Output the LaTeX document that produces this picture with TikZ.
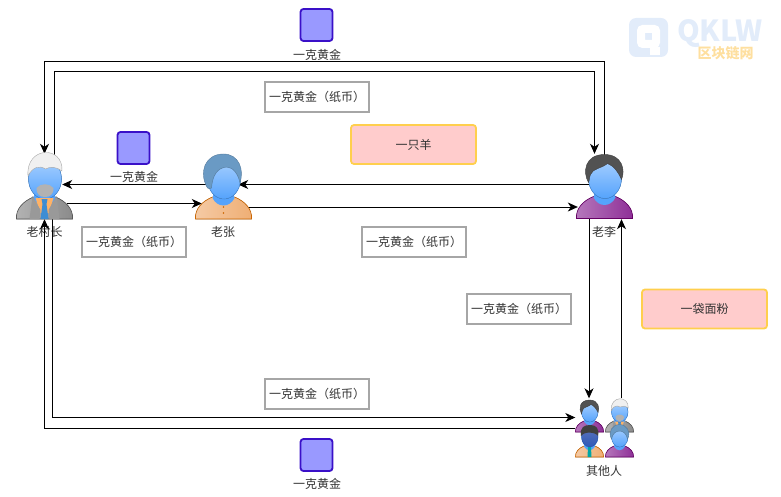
\documentclass[tikz,border=0pt]{standalone}
\usepackage{fontspec}
\setmainfont{Noto Sans CJK SC}
\usetikzlibrary{arrows.meta,positioning,calc}
\definecolor{txt}{HTML}{333333}
\definecolor{faceA}{HTML}{A8D0FF}
\definecolor{faceB}{HTML}{55A3FC}
\definecolor{bodygray}{HTML}{8A8A8A}
\definecolor{bodyorange}{HTML}{EFAE74}
\definecolor{bodyviolet}{HTML}{8E2F97}
\definecolor{hairblue}{HTML}{6A9AC4}
\definecolor{goldedge}{HTML}{3A10C8}
\definecolor{goodsedge}{HTML}{FFCF4D}
\definecolor{markblue}{HTML}{E2ECFA}
\definecolor{markgold}{HTML}{FEDF9F}
\tikzstyle{person}=[minimum width=57pt, minimum height=66pt, inner sep=0pt]
\tikzstyle{caption}=[font=\fontsize{12}{12}\selectfont, text=txt, inner sep=0pt]
\tikzstyle{gold}=[draw=goldedge, fill=blue!40, line width=1.8pt, rounded corners=3pt, minimum size=32pt, inner sep=0pt]
\tikzstyle{paper}=[draw=black!35, fill=white, line width=2pt, minimum width=104.5pt, minimum height=30pt, inner sep=0pt, font=\fontsize{12}{12}\selectfont, text=txt]
\tikzstyle{goods}=[draw=goodsedge, fill=red!20, line width=1.8pt, rounded corners=3pt, minimum width=125pt, minimum height=39pt, inner sep=0pt, font=\fontsize{12}{12}\selectfont, text=txt]
\tikzstyle{conn}=[->, >={Stealth[length=10pt,width=9pt,inset=3pt]}, line width=0.8pt]
% head, neck and shoulders of one figure; the origin is the bottom of the shoulders
\newcommand{\figbody}[2]{
	\filldraw[draw=#2, line width=0.6pt, left color=#1!65, right color=#1] (-28,0) .. controls (-29,-10) and (-21,-18) .. (-11,-22) -- (11,-22) .. controls (21,-18) and (29,-10) .. (28,0) -- cycle;
	\fill[faceB] (-9,-30) -- (-11,-21) .. controls (-6,-11) and (6,-11) .. (11,-21) -- (9,-30) -- cycle;
	\filldraw[draw=faceB!85!black, line width=0.5pt, top color=faceA, bottom color=faceB] (0.5,-40) ellipse (16.5 and 20);
}
\tikzset{
	chiefpic/.pic={
		\figbody{bodygray}{gray!70!black}
		\fill[orange!60] (-9,-21) -- (9,-21) -- (4,-6) -- (-4,-6) -- cycle;
		\fill[gray!80] (-12,-23) -- (-4,-9) -- (-5,0) -- (-15,0) -- cycle;
		\fill[gray!80] (12,-23) -- (4,-9) -- (5,0) -- (15,0) -- cycle;
		\fill[cyan!60!blue!80] (-3,-20) -- (3,-20) -- (2,-15) -- (4,0) -- (-4,0) -- (-2,-15) -- cycle;
		\filldraw[draw=gray!70, fill=gray!12] (-16.5,-43) .. controls (-19,-73) and (19,-74) .. (17.5,-48) .. controls (12,-52) and (6,-53) .. (1,-50) .. controls (-5,-54) and (-12,-52) .. (-16.5,-43) -- cycle;
		\fill[gray!60] (-8,-31) .. controls (-4,-36) and (5,-36) .. (9,-31) .. controls (9,-24) and (5,-22) .. (0.5,-22) .. controls (-4,-22) and (-8,-24) .. (-8,-31) -- cycle;
	},
	zhangpic/.pic={
		\figbody{bodyorange}{orange!80!black}
		\fill[orange!80!black] (0,-12) circle (0.8) (0,-6) circle (0.8);
		\filldraw[draw=hairblue!80!black, fill=hairblue] (-16,-31) .. controls (-25,-46) and (-19,-65) .. (0,-65) .. controls (15,-65) and (21,-50) .. (16.5,-36) .. controls (15,-44) and (10,-52) .. (3,-52) .. controls (-6,-51) and (-11,-44) .. (-12,-31) .. controls (-13,-30) and (-15,-30) .. (-16,-31) -- cycle;
	},
	lipic/.pic={
		\figbody{bodyviolet}{violet!80!black}
		\filldraw[draw=gray!50!black, fill=black!68] (-16,-36) .. controls (-22,-46) and (-20,-64) .. (0,-64) .. controls (18,-64) and (21,-48) .. (17,-39) .. controls (14,-46) and (9,-53) .. (3,-55) .. controls (-3,-50) and (-12,-50) .. (-14,-44) .. controls (-15,-42) and (-15,-38) .. (-16,-36) -- cycle;
	},
	nbpic/.pic={
		\figbody{bodyorange}{orange!80!black}
		\fill[teal!70!cyan] (-3,-20) -- (3,-20) -- (4,0) -- (-4,0) -- cycle;
		\fill[blue!40!black, opacity=0.45] (0.5,-40) ellipse (16.5 and 20);
		\fill[black!75] (-17,-42) .. controls (-20,-60) and (-10,-64) .. (2,-64) .. controls (14,-64) and (20,-56) .. (17,-42) .. controls (12,-50) and (-10,-52) .. (-17,-42) -- cycle;
	},
	bluepic/.pic={
		\figbody{bodyviolet}{violet!80!black}
		\filldraw[draw=hairblue!80!black, fill=hairblue] (-16,-36) .. controls (-24,-50) and (-14,-65) .. (0,-65) .. controls (14,-65) and (24,-50) .. (16,-36) .. controls (14,-46) and (8,-52) .. (0,-52) .. controls (-8,-52) and (-14,-46) .. (-16,-36) -- cycle;
	}
}
\begin{document}
\begin{tikzpicture}[x=1pt,y=-1pt]
	\useasboundingbox (0,0) rectangle (781,497);
	% watermark
	\node[fill=markblue, rounded corners=7pt, minimum size=39pt, inner sep=0pt](qicon)at(648.5,37.5){};
	\node[fill=white, minimum width=10pt, minimum height=8pt, inner sep=0pt](qtail)at(655,51){};
	\node[draw=white, line width=8pt, fill=markblue, rounded corners=2pt, minimum size=15pt, inner sep=0pt](qring)at(648.5,36.5){};
	\node[font=\bfseries\fontsize{29}{29}\selectfont, text=markblue, inner sep=0pt](qklw)at(720,33.5){QKLW};
	\node[font=\bfseries\fontsize{14}{14}\selectfont, text=markgold, inner sep=0pt](qsub)at(725.5,53){区块链网};
	% people
	\node[person](chief)at(44.5,186){};
	\node[person](zhang)at(223.5,186){};
	\node[person](li)at(604.5,186){};
	\node[person, minimum width=58pt, minimum height=58pt](others)at(604.5,428.5){};
	\node[caption](chieflabel)at(44.5,232){老村长};
	\node[caption](zhanglabel)at(223,232){老张};
	\node[caption](lilabel)at(604,232){老李};
	\node[caption](otherslabel)at(604,471){其他人};
	% gold
	\node[gold](goldtop)at(316.5,25){};
	\node[gold](goldleft)at(133.5,148){};
	\node[gold](goldbot)at(316.5,455){};
	\node[caption](goldtoplabel)at(317,55){一克黄金};
	\node[caption](goldleftlabel)at(134,177){一克黄金};
	\node[caption](goldbotlabel)at(317,484){一克黄金};
	% paper money
	\node[paper](papertop)at(317,96.7){一克黄金（纸币）};
	\node[paper](paperleft)at(134,241.7){一克黄金（纸币）};
	\node[paper](papermid)at(414,241.7){一克黄金（纸币）};
	\node[paper](paperright)at(519,308.7){一克黄金（纸币）};
	\node[paper](paperbot)at(317,393.7){一克黄金（纸币）};
	% goods
	\node[goods](sheep)at(413.5,144.5){一只羊};
	\node[goods](flour)at(704.5,309){一袋面粉};
	% connectors
	\coordinate(topin)at(54.5,71.5);
	\coordinate(topout)at(604.5,61.5);
	\coordinate(botin)at(52.5,417.5);
	\coordinate(botout)at(44.5,428.5);
	\draw[conn]([xshift=10pt,yshift=-6pt]chief.north)--(topin)-|([xshift=-10pt,yshift=-1pt]li.north);
	\draw[conn]([yshift=-6pt]li.north)--(topout)-|([yshift=-1pt]chief.north);
	\draw[conn]([xshift=-16pt,yshift=1.5pt]li.center)--([xshift=-14pt,yshift=1.5pt]zhang.east);
	\draw[conn]([xshift=-18pt,yshift=1.5pt]zhang.center)--([xshift=-11pt,yshift=1.5pt]chief.east);
	\draw[conn]([xshift=-6pt,yshift=-17.5pt]chief.east)--([xshift=7pt,yshift=-17.5pt]zhang.west);
	\draw[conn]([xshift=-4pt,yshift=-21pt]zhang.east)--([xshift=2pt,yshift=-21pt]li.west);
	\draw[conn]([xshift=-15.5pt]li.south)--([xshift=-15.5pt,yshift=1pt]others.north);
	\draw[conn]([xshift=17pt,yshift=1pt]others.north)--([xshift=17pt]li.south);
	\draw[conn]([xshift=8pt]chief.south)--(botin)--([yshift=11pt]others.west);
	\draw[conn](others.west)--(botout)--(chief.south);
	% figures on top of the lines
	\pic at(44.5,219){chiefpic};
	\pic at(223.5,219){zhangpic};
	\pic at(604.5,218.5){lipic};
	\pic[scale=0.5] at(589.5,432){lipic};
	\pic[scale=0.5] at(619.5,432){chiefpic};
	\pic[scale=0.5] at(589.5,457){nbpic};
	\pic[scale=0.5] at(619.5,457){bluepic};
\end{tikzpicture}
\end{document}
